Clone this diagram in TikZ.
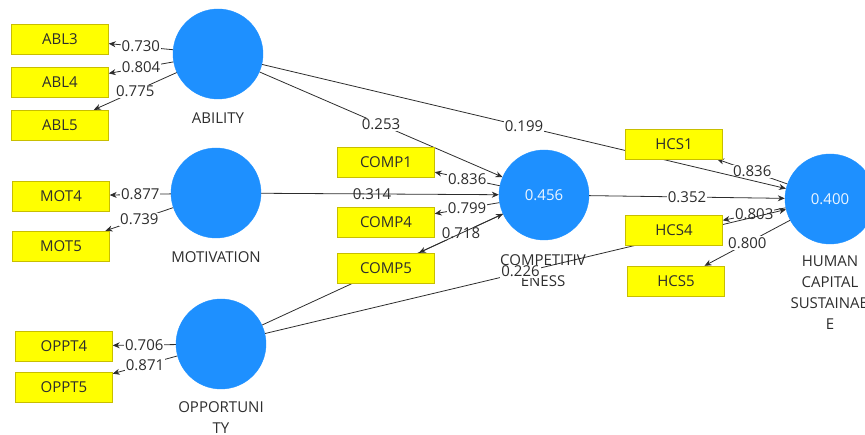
\documentclass[tikz,border=0pt]{standalone}
\usepackage{fontspec}
\setmainfont{Open Sans}
\usetikzlibrary{arrows.meta, positioning, backgrounds}
\definecolor{lvblue}{RGB}{30,144,255}
\definecolor{mvyellow}{RGB}{255,255,0}
\definecolor{mvedge}{RGB}{200,190,0}
\definecolor{txtgray}{RGB}{45,45,45}
\tikzset{
  latent/.style={circle, fill=lvblue, draw=lvblue, minimum size=90pt, inner sep=0pt, text=white!92!lvblue},
  indicator/.style={rectangle, fill=mvyellow, draw=mvedge, minimum width=97pt, minimum height=30pt, inner sep=0pt, text=txtgray},
  lvname/.style={align=center, text=txtgray, font=\fontsize{15}{21}\selectfont},
  coef/.style={fill=white, inner sep=1pt, text=txtgray},
  bare/.style={inner sep=1pt, text=txtgray},
  edge/.style={draw=txtgray, line width=0.8pt, -{Stealth[length=7pt,width=6pt]}},
}

\begin{document}
\begin{tikzpicture}[x=1pt, y=-1pt, font=\fontsize{15}{20}\selectfont]
\useasboundingbox (0,0) rectangle (865,435);

% latent variables
\node[latent] (abil) at (218,54) {};
\node[latent] (moti) at (216,193) {};
\node[latent] (oppo) at (221,344) {};
\node[latent] (comp) at (544,195) {0.456};
\node[latent] (hcs) at (830,199) {0.400};

% indicators
\node[indicator] (abl3) at (60,39) {ABL3};
\node[indicator] (abl4) at (60,82) {ABL4};
\node[indicator] (abl5) at (60,125) {ABL5};
\node[indicator] (mot4) at (61,196) {MOT4};
\node[indicator] (mot5) at (61,246) {MOT5};
\node[indicator] (oppt4) at (64,346) {OPPT4};
\node[indicator] (oppt5) at (64,387) {OPPT5};
\node[indicator] (comp1) at (386,162) {COMP1};
\node[indicator] (comp4) at (386,222) {COMP4};
\node[indicator] (comp5) at (386,268) {COMP5};
\node[indicator] (hcs1) at (674,144) {HCS1};
\node[indicator] (hcs4) at (674,230) {HCS4};
\node[indicator] (hcs5) at (676,281) {HCS5};

\begin{pgfonlayer}{background}
% names
\node[lvname] (abilname) at (218,118) {ABILITY};
\node[lvname] (motiname) at (216,257) {MOTIVATION};
\node[lvname] (opponame) at (221,418) {OPPORTUNI\\TY};
\node[lvname] (compname) at (543,271) {COMPETITIV\\ENESS};
\node[lvname] (hcsname) at (830,293) {HUMAN\\CAPITAL\\SUSTAINAB\\E};

% outer loadings
\draw[edge] (abil) -- node[coef] {0.730} (abl3);
\draw[edge] (abil) -- node[coef] {0.804} (abl4);
\draw[edge] (abil) -- node[coef] {0.775} (abl5);
\draw[edge] (moti) -- node[coef] {0.877} (mot4);
\draw[edge] (moti) -- node[coef] {0.739} (mot5);
\draw[edge] (oppo) -- node[coef] {0.706} (oppt4);
\draw[edge] (oppo) -- node[coef] {0.871} (oppt5);
\draw[edge] (comp) -- node[coef] {0.836} (comp1);
\draw[edge] (comp) -- node[coef] {0.799} (comp4);
\draw[edge] (comp) -- node[coef] {0.718} (comp5);
\draw[edge] (hcs) -- node[coef] {0.836} (hcs1);
\draw[edge] (hcs) -- node[coef] {0.803} (hcs4);
\draw[edge] (hcs) -- node[coef] {0.800} (hcs5);

% path coefficients
\draw[edge] (abil) -- node[coef] {0.253} (comp);
\draw[edge] (abil) -- node[coef] {0.199} (hcs);
\draw[edge] (moti) -- node[bare, xshift=-8pt] {0.314} (comp);
\draw[edge] (oppo) -- (comp);
\draw[edge] (comp) -- node[coef] {0.352} (hcs);
\draw[edge] (oppo) -- node[coef, xshift=-5pt] {0.226} (hcs);
\end{pgfonlayer}
\end{tikzpicture}
\end{document}
